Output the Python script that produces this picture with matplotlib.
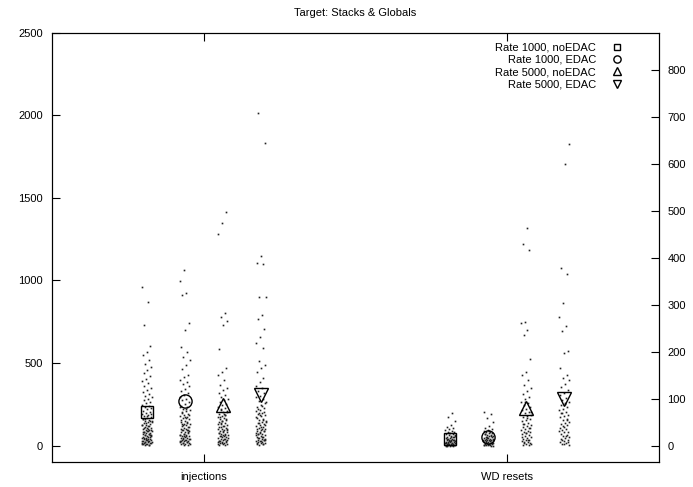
import matplotlib
matplotlib.use("Agg")
import matplotlib.pyplot as plt
import numpy as np

plt.rcParams['font.family'] = ['Liberation Sans', 'DejaVu Sans']

categories = ["injections", "WD resets"]
series_names = ["Rate 1000, noEDAC", "Rate 1000, EDAC", "Rate 5000, noEDAC", "Rate 5000, EDAC"]

# injections (left axis)
inj_r1000_noedac = [958, 872, 731, 604, 566, 548, 521, 497, 478, 455, 440, 421, 404, 392, 377, 361, 349, 338,
                    322, 311, 302, 291, 283, 274, 266, 258, 247, 239, 233, 226, 219, 211, 205, 198, 191, 186,
                    180, 173, 168, 162, 157, 151, 146, 140, 136, 131, 127, 122, 118, 113, 109, 104, 101, 97,
                    93, 89, 86, 82, 78, 75, 71, 68, 64, 61, 57, 54, 51, 48, 45, 42, 39, 36, 33, 30, 27, 24,
                    22, 19, 16, 13, 11, 8, 6, 4,
                    188, 176, 163, 149, 138, 125, 117, 106, 95, 88, 79, 72, 66, 59, 52, 46, 41, 35, 29, 25,
                    20, 15, 12, 9, 3, 160, 143, 99, 84, 63, 38, 17]
inj_r1000_edac = [1062, 996, 925, 912, 742, 700, 597, 567, 537, 518, 490, 462, 430, 415, 400, 386, 371, 359,
                  344, 331, 318, 305, 296, 284, 273, 262, 250, 241, 232, 224, 215, 207, 199, 192, 184, 177,
                  171, 164, 158, 151, 145, 139, 133, 128, 122, 117, 111, 106, 101, 96, 92, 87, 83, 79, 74,
                  70, 66, 62, 58, 55, 51, 47, 44, 41, 37, 34, 31, 28, 25, 22, 19, 16, 14, 11, 8, 5, 3,
                  236, 219, 203, 187, 172, 155, 141, 126, 114, 103, 91, 81, 72, 64, 56, 48, 40, 33, 26, 20,
                  13, 7, 168, 132, 97, 60, 29]
inj_r5000_noedac = [1416, 1349, 1280, 803, 778, 755, 732, 585, 470, 445, 428, 398, 368, 350, 336, 321, 309,
                    297, 284, 273, 262, 252, 243, 234, 226, 217, 209, 201, 194, 187, 179, 172, 166, 159, 153,
                    147, 141, 135, 129, 124, 118, 113, 108, 103, 98, 93, 89, 84, 80, 76, 72, 68, 64, 60, 56,
                    52, 49, 45, 42, 38, 35, 32, 29, 26, 23, 20, 17, 14, 12, 9, 6, 4,
                    221, 205, 190, 174, 161, 146, 133, 121, 110, 99, 87, 77, 66, 57, 47, 39, 30, 22, 15, 8,
                    182, 137, 95, 62, 27]
inj_r5000_edac = [2012, 1833, 1150, 1105, 1102, 902, 898, 790, 767, 706, 660, 621, 593, 514, 488, 470, 445,
                  410, 385, 362, 348, 331, 318, 302, 291, 279, 268, 257, 246, 236, 227, 218, 209, 200, 192,
                  184, 176, 169, 162, 155, 148, 141, 135, 129, 123, 117, 111, 106, 100, 95, 90, 85, 80, 76,
                  71, 67, 62, 58, 54, 50, 46, 42, 39, 35, 32, 28, 25, 22, 19, 16, 13, 10, 7, 4,
                  262, 241, 222, 203, 187, 170, 152, 138, 124, 112, 98, 87, 75, 64, 53, 44, 36, 27, 18, 11,
                  196, 144, 103, 69, 31]

# WD resets (right axis)
wd_r1000_noedac = [70, 61, 53, 44, 40, 37, 35, 33, 31, 29, 28, 26, 25, 24, 22, 21, 20, 19, 18, 17, 16, 15,
                   14, 13, 13, 12, 11, 10, 10, 9, 8, 8, 7, 6, 6, 5, 5, 4, 4, 3, 3, 2, 2, 1, 1, 0, 0, 0,
                   27, 23, 19, 15, 12, 9, 7, 5, 3, 2, 1, 0, 18, 11, 6, 2]
wd_r1000_edac = [72, 67, 59, 50, 42, 38, 36, 34, 32, 30, 29, 27, 26, 24, 23, 22, 21, 20, 19, 18, 17, 16,
                 15, 15, 14, 13, 12, 11, 11, 10, 9, 9, 8, 7, 7, 6, 5, 5, 4, 4, 3, 2, 2, 1, 1, 0,
                 31, 25, 21, 17, 13, 10, 8, 6, 3, 1, 0, 19, 12, 4]
wd_r5000_noedac = [464, 430, 417, 264, 261, 247, 236, 184, 158, 151, 140, 130, 122, 116, 110, 104, 99, 94,
                   90, 86, 82, 78, 75, 72, 69, 66, 63, 60, 57, 54, 52, 49, 47, 44, 42, 40, 38, 36, 34, 32,
                   30, 28, 26, 24, 22, 20, 18, 16, 15, 13, 11, 9, 8, 6, 5, 3, 2, 1,
                   92, 71, 58, 46, 37, 27, 19, 12, 7, 3]
wd_r5000_edac = [643, 600, 378, 366, 304, 274, 255, 245, 202, 198, 166, 151, 144, 140, 131, 124, 118, 112,
                 107, 102, 98, 94, 90, 86, 82, 78, 75, 72, 69, 66, 63, 60, 57, 54, 51, 48, 46, 43, 40, 38,
                 35, 33, 30, 28, 25, 23, 20, 18, 16, 14, 12, 10, 8, 6, 4, 2,
                 88, 70, 55, 41, 31, 21, 13, 7, 3]

# averages shown by the big markers
inj_means = [204, 270, 245, 306]
wd_means = [14, 18, 80, 100]

markers = ['s', 'o', '^', 'v']
msizes = [8.5, 9.5, 10, 10]
offsets = [-0.1875, -0.0625, 0.0625, 0.1875]

fig = plt.figure(figsize=(6.93, 4.87), dpi=100)
ax = fig.add_axes([0.075, 0.0513, 0.876, 0.881])
ax2 = ax.twinx()

def jitter(n, seed):
    # deterministic scatter of the dots around the column centre (multiplicative hash)
    k = np.arange(n, dtype=np.int64) + seed * 101
    h = (k * 2654435761) % 4294967296
    return (h / 4294967296.0 - 0.5) * 0.034

inj_data = [inj_r1000_noedac, inj_r1000_edac, inj_r5000_noedac, inj_r5000_edac]
wd_data = [wd_r1000_noedac, wd_r1000_edac, wd_r5000_noedac, wd_r5000_edac]

handles = []
for i in range(4):
    xi = 1 + offsets[i]
    ax.plot(xi + jitter(len(inj_data[i]), i), inj_data[i], ls='none', marker='s', ms=1.2, mew=0,
            color='#222222')
    ax.plot([xi], [inj_means[i]], ls='none', marker=markers[i], ms=msizes[i], mfc='none', mec='black', mew=1.0)
    xw = 2 + offsets[i]
    ax2.plot(xw + jitter(len(wd_data[i]), i + 4), wd_data[i], ls='none', marker='s', ms=1.2, mew=0,
             color='#222222')
    h, = ax2.plot([xw], [wd_means[i]], ls='none', marker=markers[i], ms=msizes[i], mfc='none', mec='black',
                  mew=1.0, label=series_names[i])
    handles.append(h)

ax.set_xlim(0.5, 2.5)
ax.set_ylim(-100, 2500)
ax2.set_ylim(-35, 880)
ax.set_xticks([1, 2])
ax.set_xticklabels(categories)
ax.set_yticks(np.arange(0, 2501, 500))
ax2.set_yticks(np.arange(0, 801, 100))

ax.tick_params(axis='x', direction='in', top=True, length=6, pad=7, labelsize=8, width=0.8)
ax.tick_params(axis='y', direction='in', right=False, length=6, pad=6.5, labelsize=8, width=0.8)
ax2.tick_params(axis='y', direction='in', length=6, pad=6, labelsize=8, width=0.8)
for a in (ax, ax2):
    for s in a.spines.values():
        s.set_linewidth(0.8)

ax.set_title("Target: Stacks & Globals", fontsize=8, pad=12)

ax2.legend(handles=handles, loc='upper right', bbox_to_anchor=(0.94, 0.978), frameon=False,
           markerfirst=False, fontsize=8, markerscale=0.55, handlelength=1.0, handletextpad=1.4,
           labelspacing=0.22, borderpad=0, borderaxespad=0)

fig.savefig("out.png", dpi=100)
